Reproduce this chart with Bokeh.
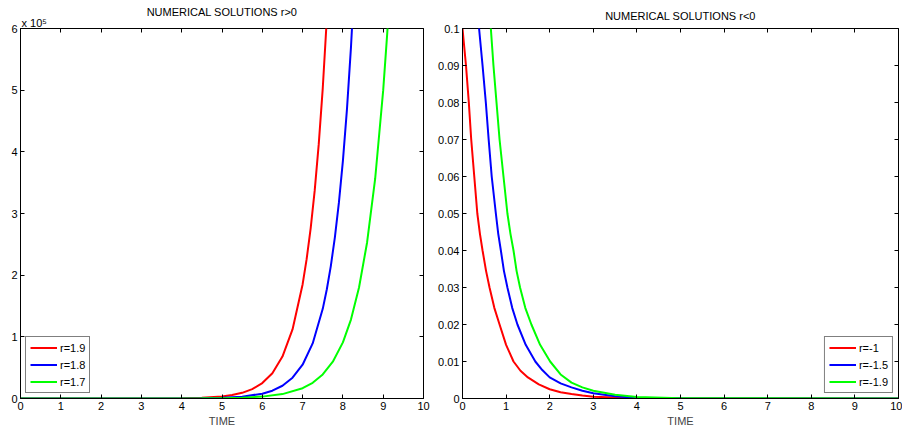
from bokeh.plotting import figure
from bokeh.layouts import row
from bokeh.models import (LinearAxis, Range1d, FixedTicker, CustomJSTickFormatter,
                          Legend, LegendItem, Title)
from bokeh.embed import file_html
from bokeh.resources import INLINE

# ---------------- data ----------------
# Left panel: r > 0
t_r19 = [0, 1, 2, 3, 4, 4.5, 5, 5.25, 5.5, 5.75, 6, 6.25, 6.5, 6.75, 7, 7.1, 7.2, 7.3, 7.4, 7.5, 7.6, 7.7, 10]
y_r19 = [0, 1, 8, 60, 460, 1250, 3400, 5600, 9200, 15200, 25000, 41000, 68000, 112000, 185000,
         226000, 276000, 337000, 412000, 503000, 615000, 750000, 750000]

t_r18 = [0, 1, 2, 3, 4, 4.5, 5, 5.5, 6, 6.25, 6.5, 6.75, 7, 7.25, 7.5, 7.6, 7.7, 7.8, 7.9, 8, 8.1, 8.2, 8.3, 8.4, 10]
y_r18 = [0, 0.5, 3, 25, 158, 419, 1110, 2943, 7801, 12700, 20700, 33700, 54800, 89300, 145400,
         176700, 214700, 260900, 317100, 385400, 468400, 569400, 691700, 841000, 841000]

t_r17 = [0, 1, 2, 3, 4, 4.5, 5, 5.5, 6, 6.5, 7, 7.25, 7.5, 7.75, 8, 8.2, 8.4, 8.6, 8.8, 9.0, 9.1, 9.2, 10]
y_r17 = [0.1, 0.6, 3.3, 18, 102, 238, 557, 1300, 3050, 7120, 16700, 25500, 39000, 59700, 91000,
         128000, 180000, 253000, 356000, 500000, 592000, 702000, 702000]

# Right panel: r < 0
t_m10 = [0, 0.04, 0.08, 0.145, 0.2, 0.27, 0.34, 0.4, 0.46, 0.54, 0.62, 0.73, 0.85, 1.0, 1.17,
         1.33, 1.5, 1.75, 2, 2.25, 2.5, 2.75, 3, 3.5, 4, 5, 10]
y_m10 = [0.1, 0.095, 0.09, 0.08, 0.07, 0.06, 0.05, 0.0445, 0.04, 0.0345, 0.03, 0.0245, 0.02,
         0.0145, 0.01, 0.0075, 0.0057, 0.0038, 0.0025, 0.0017, 0.0012, 0.0008,
         0.0005, 0.00025, 0.0001, 0.00003, 0]

t_m15 = [0, 0.38, 0.46, 0.535, 0.6, 0.67, 0.765, 0.82, 0.88, 0.95, 1.03, 1.14, 1.26, 1.45, 1.67,
         1.83, 2, 2.25, 2.5, 2.75, 3, 3.5, 4, 5, 10]
y_m15 = [0.21, 0.1, 0.09, 0.08, 0.07, 0.06, 0.05, 0.0445, 0.04, 0.0345, 0.03, 0.0245, 0.02,
         0.0145, 0.01, 0.0077, 0.0057, 0.0041, 0.003, 0.0021,
         0.0014, 0.0006, 0.0002, 0.00005, 0]

t_m19 = [0, 0.65, 0.71, 0.78, 0.85, 0.94, 1.03, 1.1, 1.17, 1.24, 1.32, 1.44, 1.58, 1.78, 2.01,
         2.25, 2.5, 2.75, 3, 3.5, 4, 5, 10]
y_m19 = [0.37, 0.1, 0.09, 0.08, 0.07, 0.06, 0.05, 0.0445, 0.04, 0.0345, 0.03, 0.0245, 0.02,
         0.0145, 0.01, 0.0065, 0.0043, 0.003, 0.0021, 0.001, 0.0004, 0.0001, 0]

x_ticks = [0, 1, 2, 3, 4, 5, 6, 7, 8, 9, 10]
left_y_ticks = [0, 100000, 200000, 300000, 400000, 500000, 600000]
right_y_ticks = [0, 0.01, 0.02, 0.03, 0.04, 0.05, 0.06, 0.07, 0.08, 0.09, 0.1]

left_labels = ["r=1.9", "r=1.8", "r=1.7"]
right_labels = ["r=-1", "r=-1.5", "r=-1.9"]
colors = ["#ff0000", "#0000ff", "#00ff00"]
exponent_text = "x 10\u2075"

FONT = "Liberation Sans"
FS = "11px"


def style(p, yticks, yfmt):
    p.xaxis.ticker = FixedTicker(ticks=x_ticks)
    p.yaxis.ticker = FixedTicker(ticks=yticks)
    p.yaxis.formatter = yfmt
    p.xgrid.visible = False
    p.ygrid.visible = False
    p.outline_line_color = "black"
    p.outline_line_width = 1
    p.outline_line_alpha = 1
    for ax in [p.xaxis[0], p.yaxis[0]]:
        ax.major_tick_in = 4
        ax.major_tick_out = 0
        ax.minor_tick_line_color = None
        ax.axis_line_color = "black"
        ax.major_tick_line_color = "black"
        ax.major_label_text_font = FONT
        ax.major_label_text_font_size = FS
        ax.major_label_text_color = "black"
        ax.major_label_standoff = 3
    p.xaxis.axis_label = "TIME"
    p.xaxis.axis_label_text_font = FONT
    p.xaxis.axis_label_text_font_size = FS
    p.xaxis.axis_label_text_font_style = "normal"
    p.xaxis.axis_label_standoff = 2
    blank = CustomJSTickFormatter(code="return '';")
    # mirrored tick marks on top and right
    top = LinearAxis(ticker=FixedTicker(ticks=x_ticks), formatter=blank,
                     major_tick_in=4, major_tick_out=0, minor_tick_line_color=None,
                     axis_line_color=None, major_label_standoff=0)
    right = LinearAxis(ticker=FixedTicker(ticks=yticks), formatter=blank,
                       major_tick_in=4, major_tick_out=0, minor_tick_line_color=None,
                       axis_line_color=None, major_label_standoff=0)
    p.add_layout(top, "above")
    p.add_layout(right, "right")
    p.title.text_font = FONT
    p.title.text_font_size = "11px"
    p.title.text_font_style = "normal"
    p.title.text_color = "black"
    p.title.align = "center"


# ---------------- left ----------------
p1 = figure(width=435, height=434, output_backend="svg", toolbar_location=None,
            x_range=Range1d(0, 10), y_range=Range1d(0, 600000),
            title="NUMERICAL SOLUTIONS r>0",
            min_border_left=20, min_border_right=12, min_border_top=28, min_border_bottom=36)
fmt1 = CustomJSTickFormatter(code="return String(Math.round(tick/1e5));")
style(p1, left_y_ticks, fmt1)
p1.title.standoff = -7
p1.add_layout(Title(text=exponent_text, align="left", text_font=FONT, text_font_size="11px",
                    text_color="black", text_font_style="normal", standoff=0, offset=1), "above")

r1 = p1.line(t_r19, y_r19, color=colors[0], line_width=2)
r2 = p1.line(t_r18, y_r18, color=colors[1], line_width=2)
r3 = p1.line(t_r17, y_r17, color=colors[2], line_width=2)

leg1 = Legend(items=[LegendItem(label=l, renderers=[r]) for l, r in zip(left_labels, [r1, r2, r3])],
              location="bottom_left")
p1.add_layout(leg1)

# ---------------- right ----------------
p2 = figure(width=467, height=434, output_backend="svg", toolbar_location=None,
            x_range=Range1d(0, 10), y_range=Range1d(0, 0.1),
            title="NUMERICAL SOLUTIONS r<0",
            min_border_left=27, min_border_right=4, min_border_top=28, min_border_bottom=36)
fmt2 = CustomJSTickFormatter(code="return String(parseFloat(tick.toFixed(4)));")
style(p2, right_y_ticks, fmt2)
p2.title.standoff = 14

q1 = p2.line(t_m10, y_m10, color=colors[0], line_width=2)
q2 = p2.line(t_m15, y_m15, color=colors[1], line_width=2)
q3 = p2.line(t_m19, y_m19, color=colors[2], line_width=2)

leg2 = Legend(items=[LegendItem(label=l, renderers=[r]) for l, r in zip(right_labels, [q1, q2, q3])],
              location="bottom_right")
p2.add_layout(leg2)

for lg in [leg1, leg2]:
    lg.border_line_color = "black"
    lg.border_line_width = 1
    lg.label_text_font = FONT
    lg.label_text_font_size = "11px"
    lg.label_text_color = "black"
    lg.glyph_width = 27
    lg.glyph_height = 13
    lg.label_height = 13
    lg.spacing = 4
    lg.padding = 4
    lg.margin = 5
    lg.label_standoff = 3
    lg.background_fill_alpha = 1

layout = row(p1, p2)
open("out.html", "w").write(file_html(layout, INLINE))
